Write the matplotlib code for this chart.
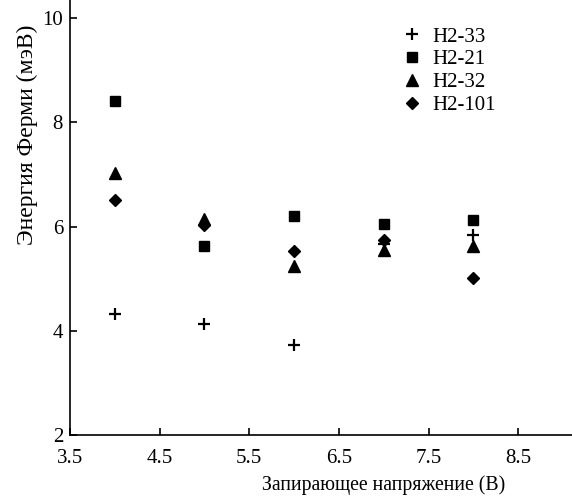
import numpy as np
import matplotlib.pyplot as plt

plt.rcParams['font.family'] = ['Liberation Serif', 'DejaVu Serif']

voltage = [4, 5, 6, 7, 8]
h2_33 = [4.33, 4.14, 3.73, 5.66, 5.83]
h2_21 = [8.42, 5.63, 6.21, 6.05, 6.12]
h2_32 = [7.03, 6.14, 5.25, 5.55, 5.63]
h2_101 = [6.52, 6.04, 5.54, 5.75, 5.02]

W, H = 572, 497
fig = plt.figure(figsize=(W / 100, H / 100), dpi=100)
ax = fig.add_axes([70 / W, 1 - 435 / H, 1 - 70 / W, 435 / H])

ax.plot(voltage, h2_33, ls='none', marker='+', ms=9, mew=1.6, color='black', label='H2-33')
ax.plot(voltage, h2_21, ls='none', marker='s', ms=7, color='black', label='H2-21')
ax.plot(voltage, h2_32, ls='none', marker='^', ms=8, color='black', label='H2-32')
ax.plot(voltage, h2_101, ls='none', marker='D', ms=6.5, color='black', label='H2-101')

ax.set_xlim(3.5, 9.1)
ax.set_ylim(2, 10.35)
ax.set_xticks([3.5, 4.5, 5.5, 6.5, 7.5, 8.5])
ax.set_xticklabels(['3.5', '4.5', '5.5', '6.5', '7.5', '8.5'])
ax.set_yticks([2, 4, 6, 8, 10])

for s in ['top', 'right']:
    ax.spines[s].set_visible(False)
for s in ['left', 'bottom']:
    ax.spines[s].set_linewidth(1.2)
ax.tick_params(direction='in', length=5, width=1.2, labelsize=15)
ax.tick_params(axis='x', pad=10)
ax.tick_params(axis='y', pad=5)

ax.set_xlabel('Запирающее напряжение (В)', fontsize=14.2, va='center')
ax.xaxis.set_label_coords(384 / W, 1 - 485 / H, transform=fig.transFigure)
ax.set_ylabel('Энергия Ферми (мэВ)', fontsize=17, va='center')
ax.yaxis.set_label_coords(27 / W, 1 - 135 / H, transform=fig.transFigure)

ax.legend(loc='upper left', bbox_to_anchor=(402 / W, 1 - 27 / H),
          bbox_transform=fig.transFigure, frameon=False, fontsize=15,
          handlelength=1.0, handletextpad=0.45, labelspacing=0.16,
          borderpad=0, borderaxespad=0)

fig.savefig('out.png', dpi=100)
